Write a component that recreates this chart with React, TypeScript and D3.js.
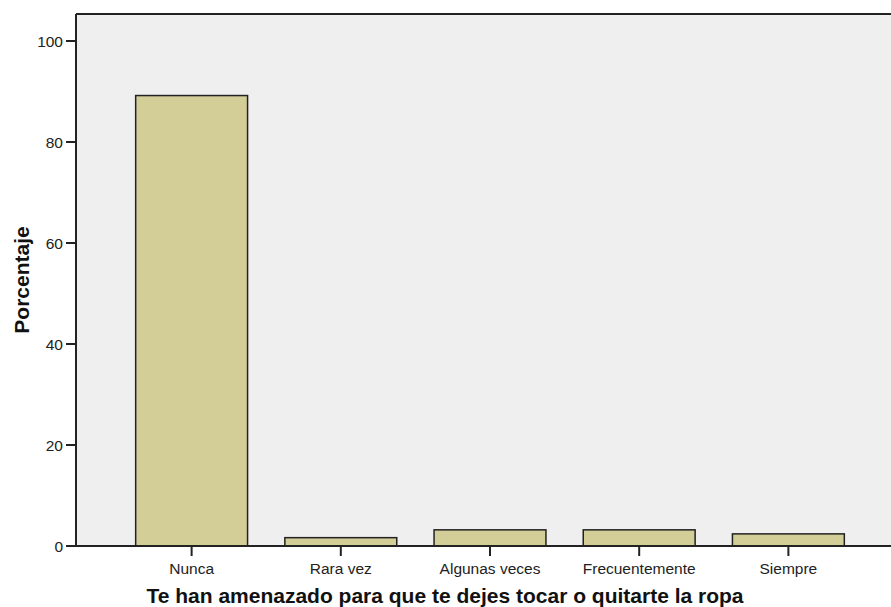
import React from "react";
import * as d3 from "d3";

const categories = ["Nunca", "Rara vez", "Algunas veces", "Frecuentemente", "Siempre"];
const values = [89.2, 1.65, 3.2, 3.2, 2.4];
const yTicks = [0, 20, 40, 60, 80, 100];
const xTitle = "Te han amenazado para que te dejes tocar o quitarte la ropa";
const yTitle = "Porcentaje";

const W = 891;
const H = 607;
const plotLeft = 76;
const plotRight = 904;
const plotTop = 14;
const plotBottom = 546;
const font = "'Liberation Sans', Arial, sans-serif";

export default function App() {
  const x = d3
    .scaleBand<string>()
    .domain(categories)
    .range([plotLeft, plotRight])
    .paddingInner(0.25)
    .paddingOuter(0.4);
  const y = d3.scaleLinear().domain([0, 100]).range([plotBottom, 41]);

  return (
    <svg
      width={W}
      height={H}
      style={{ position: "absolute", left: 0, top: 0, background: "#ffffff" }}
    >
      <rect
        x={plotLeft}
        y={plotTop}
        width={plotRight - plotLeft}
        height={plotBottom - plotTop}
        fill="#efefef"
      />
      {categories.map((c, i) => (
        <rect
          key={c}
          x={x(c)}
          y={y(values[i])}
          width={x.bandwidth()}
          height={y(0) - y(values[i])}
          fill="#d3ce98"
          stroke="#222"
          strokeWidth={1.5}
        />
      ))}
      {/* frame */}
      <line x1={plotLeft} x2={plotRight} y1={plotTop} y2={plotTop} stroke="#222" strokeWidth={2} />
      <line x1={plotLeft} x2={plotLeft} y1={plotTop} y2={plotBottom} stroke="#222" strokeWidth={2} />
      <line x1={plotLeft} x2={plotRight} y1={plotBottom} y2={plotBottom} stroke="#222" strokeWidth={2} />
      {/* y ticks */}
      {yTicks.map((t) => (
        <g key={t}>
          <line x1={plotLeft - 10} x2={plotLeft} y1={y(t)} y2={y(t)} stroke="#222" strokeWidth={2} />
          <text
            x={plotLeft - 13}
            y={y(t) + 6}
            textAnchor="end"
            fontFamily={font}
            fontSize={15.5}
            fill="#222"
          >
            {t}
          </text>
        </g>
      ))}
      {/* x ticks */}
      {categories.map((c) => {
        const cx = (x(c) as number) + x.bandwidth() / 2;
        return (
          <g key={c}>
            <line x1={cx} x2={cx} y1={plotBottom} y2={plotBottom + 10} stroke="#222" strokeWidth={2} />
            <text
              x={cx}
              y={574}
              textAnchor="middle"
              fontFamily={font}
              fontSize={15.5}
              fill="#222"
            >
              {c}
            </text>
          </g>
        );
      })}
      <text
        x={445}
        y={603}
        textAnchor="middle"
        fontFamily={font}
        fontSize={21}
        fontWeight="bold"
        fill="#111"
      >
        {xTitle}
      </text>
      <text
        transform={`translate(29,${(plotTop + plotBottom) / 2}) rotate(-90)`}
        textAnchor="middle"
        fontFamily={font}
        fontSize={21}
        fontWeight="bold"
        fill="#111"
      >
        {yTitle}
      </text>
    </svg>
  );
}
